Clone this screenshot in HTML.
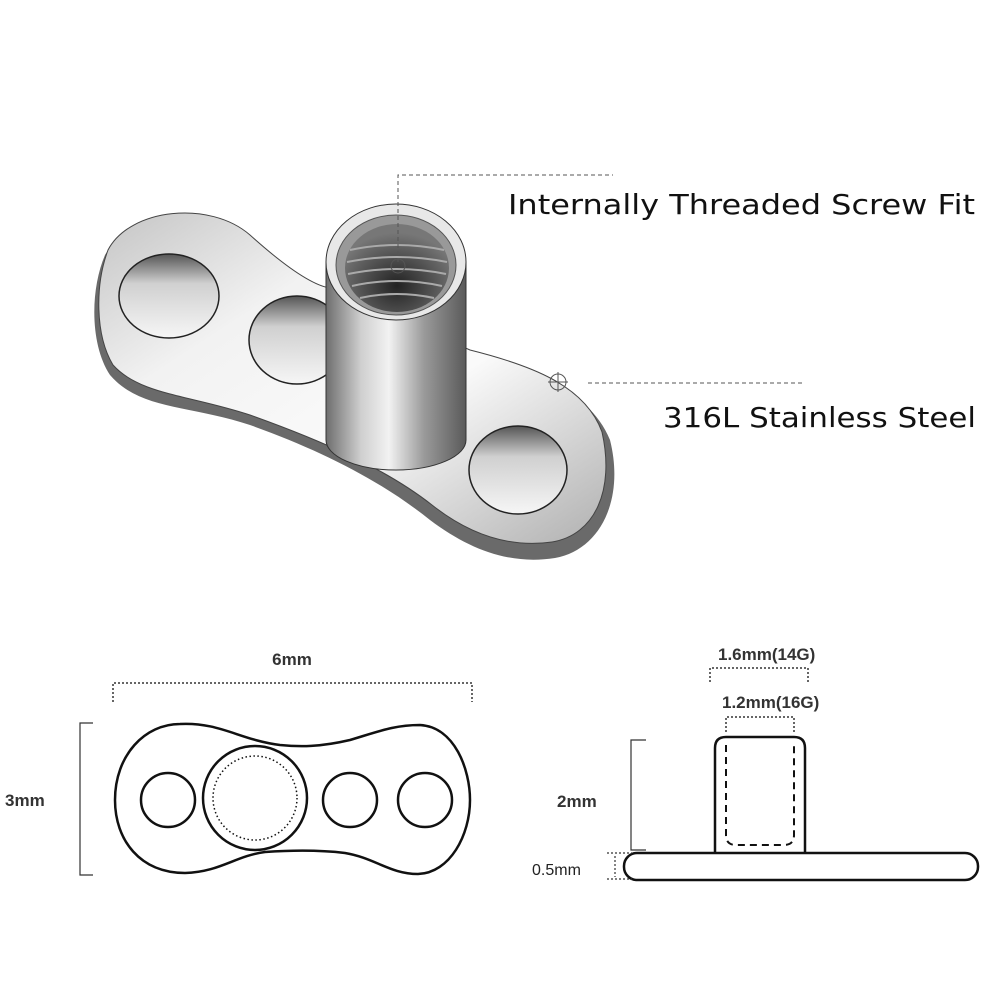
<!DOCTYPE html>
<html><head><style>
html,body{margin:0;padding:0;background:#fff;}
svg{display:block;}
</style></head><body>
<svg width="1000" height="1000" viewBox="0 0 1000 1000" xmlns="http://www.w3.org/2000/svg">
<defs>
<linearGradient id="plate" x1="0" y1="0" x2="1" y2="1">
<stop offset="0" stop-color="#c4c4c4"/><stop offset="0.3" stop-color="#f2f2f2"/><stop offset="0.6" stop-color="#fafafa"/><stop offset="1" stop-color="#b0b0b0"/>
</linearGradient>
<linearGradient id="post" x1="0" y1="0" x2="1" y2="0">
<stop offset="0" stop-color="#6e6e6e"/><stop offset="0.25" stop-color="#cfcfcf"/><stop offset="0.45" stop-color="#f2f2f2"/><stop offset="0.7" stop-color="#9a9a9a"/><stop offset="1" stop-color="#5a5a5a"/>
</linearGradient>
<linearGradient id="hole" x1="0" y1="0" x2="0" y2="1">
<stop offset="0" stop-color="#555"/><stop offset="0.35" stop-color="#d0d0d0"/><stop offset="1" stop-color="#f6f6f6"/>
</linearGradient>
<radialGradient id="thread" cx="0.5" cy="0.7" r="0.6">
<stop offset="0" stop-color="#222"/><stop offset="1" stop-color="#777"/>
</radialGradient>
</defs>
<!-- base plate edge -->
<path d="M105,255 C130,210 210,200 250,240 C280,270 310,290 330,290 L470,355 C530,370 590,390 610,440 C625,500 600,550 555,558 C510,565 470,550 430,520 C380,480 320,450 250,425 C190,405 140,410 110,375 C90,345 90,290 105,255 Z" fill="#6a6a6a"/>
<path d="M108,250 C130,208 210,200 250,235 C280,262 310,285 330,288 L470,350 C530,365 585,385 602,432 C615,490 595,535 552,542 C510,548 470,535 432,505 C385,468 320,440 250,415 C190,395 140,395 113,365 C95,335 95,285 108,250 Z" fill="url(#plate)" stroke="#444" stroke-width="1"/>
<ellipse cx="169" cy="296" rx="50" ry="42" fill="url(#hole)" stroke="#222" stroke-width="1.5"/>
<ellipse cx="297" cy="340" rx="48" ry="44" fill="url(#hole)" stroke="#222" stroke-width="1.5"/>
<ellipse cx="518" cy="470" rx="49" ry="44" fill="url(#hole)" stroke="#222" stroke-width="1.5"/>
<!-- post -->
<path d="M326,262 L326,440 A70,30 0 0 0 466,440 L466,262 Z" fill="url(#post)" stroke="#333" stroke-width="1"/>
<ellipse cx="396" cy="262" rx="70" ry="58" fill="#e8e8e8" stroke="#333" stroke-width="1"/>
<ellipse cx="396" cy="265" rx="60" ry="50" fill="#999" stroke="#555"/>
<ellipse cx="397" cy="268" rx="52" ry="44" fill="url(#thread)"/>
<g stroke="#aaa" stroke-width="2" fill="none">
<path d="M350,250 Q397,240 444,250"/><path d="M347,262 Q397,252 447,262"/><path d="M348,274 Q397,264 446,274"/><path d="M352,286 Q397,276 442,286"/><path d="M360,298 Q397,290 434,298"/>
</g>
<!-- leaders -->
<g stroke="#555" stroke-width="1" stroke-dasharray="4,3" fill="none">
<path d="M398,262 L398,175 L613,175"/>
<path d="M588,383 L802,383"/>
</g>
<g stroke="#555" stroke-width="1" fill="none">
<circle cx="398" cy="266" r="7"/><circle cx="558" cy="382" r="8"/><path d="M548,382 h20 M558,372 v20"/>
</g>
<text x="508" y="214" font-family="'DejaVu Sans',sans-serif" font-size="28" fill="#111" textLength="467" lengthAdjust="spacingAndGlyphs">Internally Threaded Screw Fit</text>
<text x="663" y="427" font-family="'DejaVu Sans',sans-serif" font-size="28" fill="#111" textLength="313" lengthAdjust="spacingAndGlyphs">316L Stainless Steel</text>
<!-- bottom left drawing -->
<text x="292" y="665" font-family="'Liberation Sans',sans-serif" font-size="17" font-weight="bold" text-anchor="middle" fill="#333">6mm</text>
<path d="M113,702 L113,683 L472,683 L472,702" fill="none" stroke="#333" stroke-width="1.5" stroke-dasharray="2,2"/>
<path d="M93,723 L80,723 L80,875 L93,875" fill="none" stroke="#333" stroke-width="1.2"/>
<text x="5" y="806" font-family="'Liberation Sans',sans-serif" font-size="17" font-weight="bold" fill="#333">3mm</text>
<path d="M180,724 C220,722 240,740 280,745 C300,747 320,747 350,740 C380,731 395,725 420,725 C455,727 470,770 470,800 C470,835 450,873 418,874 C390,874 375,858 345,853 C320,850 295,850 265,852 C235,856 220,872 185,873 C140,873 115,840 115,800 C115,755 145,724 180,724 Z" fill="none" stroke="#111" stroke-width="2.5"/>
<circle cx="168" cy="800" r="27" fill="none" stroke="#111" stroke-width="2.5"/>
<circle cx="255" cy="798" r="52" fill="none" stroke="#111" stroke-width="2.5"/>
<circle cx="255" cy="798" r="42" fill="none" stroke="#111" stroke-width="1.5" stroke-dasharray="1.5,2.5"/>
<circle cx="350" cy="800" r="27" fill="none" stroke="#111" stroke-width="2.5"/>
<circle cx="425" cy="800" r="27" fill="none" stroke="#111" stroke-width="2.5"/>
<!-- bottom right drawing -->
<text x="718" y="660" font-family="'Liberation Sans',sans-serif" font-size="17" font-weight="bold" fill="#333">1.6mm(14G)</text>
<path d="M710,682 L710,668 L808,668 L808,682" fill="none" stroke="#333" stroke-width="1.5" stroke-dasharray="2,2"/>
<text x="722" y="708" font-family="'Liberation Sans',sans-serif" font-size="17" font-weight="bold" fill="#333">1.2mm(16G)</text>
<path d="M726,732 L726,717 L794,717 L794,732" fill="none" stroke="#333" stroke-width="1.5" stroke-dasharray="2,2"/>
<path d="M715,853 L715,748 Q715,737 726,737 L794,737 Q805,737 805,748 L805,853" fill="none" stroke="#111" stroke-width="2.5"/>
<path d="M726,745 L726,835 Q726,845 736,845 L784,845 Q794,845 794,835 L794,745" fill="none" stroke="#111" stroke-width="2" stroke-dasharray="7,5"/>
<rect x="624" y="853" width="354" height="27" rx="13" fill="none" stroke="#111" stroke-width="2.5"/>
<path d="M646,740 L631,740 L631,850 L646,850" fill="none" stroke="#333" stroke-width="1.2"/>
<text x="557" y="807" font-family="'Liberation Sans',sans-serif" font-size="17" font-weight="bold" fill="#333">2mm</text>
<path d="M607,853 L632,853 M607,879 L632,879 M615,856 L615,877" fill="none" stroke="#333" stroke-width="1.2" stroke-dasharray="2,2"/>
<text x="532" y="875" font-family="'Liberation Sans',sans-serif" font-size="16" fill="#222">0.5mm</text>
</svg>
</body></html>
